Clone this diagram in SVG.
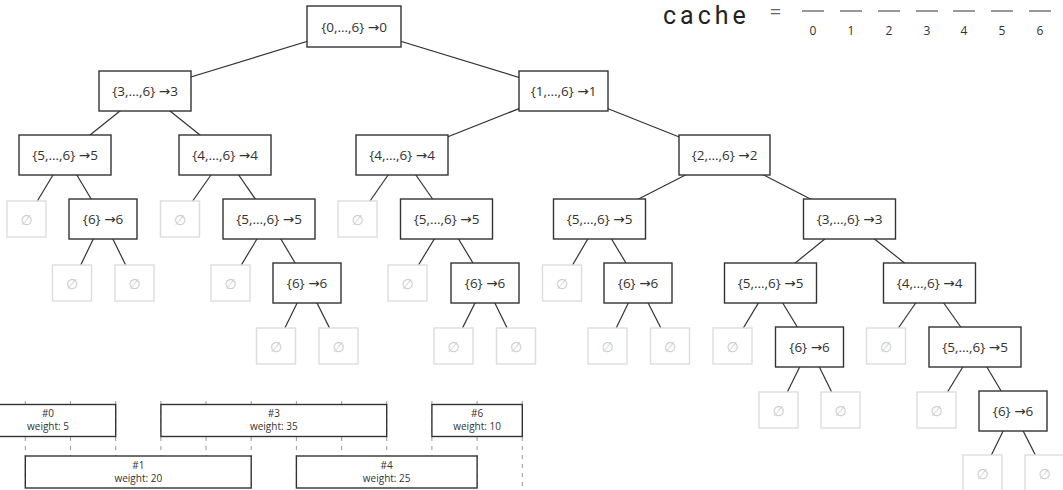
<svg xmlns="http://www.w3.org/2000/svg" width="1063" height="490" viewBox="0 0 1063 490">
<style>
text{font-family:"Open Sans","Noto Sans","DejaVu Sans",sans-serif;fill:#333}
.nb rect,.nb use{fill:#fff;stroke:#333;stroke-width:1.4}
.nb text{font-size:13.5px;text-anchor:middle;dominant-baseline:central}
.nl rect,.nl use{fill:#fff;stroke:#ddd;stroke-width:1.4}
.nl text{font-size:14px;text-anchor:middle;dominant-baseline:central;fill:#c8c8c8}
#connectors line{stroke:#333;stroke-width:1.2}
.tick{stroke:#999;stroke-width:1;stroke-dasharray:4 5}
.iv rect{fill:#fff;stroke:#333;stroke-width:1.4}
.iv text{font-size:10px;text-anchor:middle;dominant-baseline:central}
.cl{stroke:#333;stroke-width:1}
.cd{font-size:12px;text-anchor:middle}
</style>
<defs>
<rect id="b92" x="-46" y="-20" width="92" height="40"/>
<rect id="b68" x="-34" y="-20" width="68" height="40"/>
<rect id="bz" x="-19.5" y="-18" width="39" height="36"/>
</defs>

<!-- cache header -->
<g id="cache">
<text x="663" y="24" font-size="25" style="font-family:Roboto,'Open Sans',sans-serif;letter-spacing:4px;fill:#222">cache</text>
<text x="775.5" y="19" font-size="20" text-anchor="middle" style="fill:#666">=</text>
<line class="cl" x1="802" y1="11" x2="824" y2="11"/>
<line class="cl" x1="840" y1="11" x2="862" y2="11"/>
<line class="cl" x1="878" y1="11" x2="900" y2="11"/>
<line class="cl" x1="916" y1="11" x2="938" y2="11"/>
<line class="cl" x1="953" y1="11" x2="975" y2="11"/>
<line class="cl" x1="991" y1="11" x2="1013" y2="11"/>
<line class="cl" x1="1029" y1="11" x2="1051" y2="11"/>
<text class="cd" x="813" y="35">0</text>
<text class="cd" x="851" y="35">1</text>
<text class="cd" x="889" y="35">2</text>
<text class="cd" x="927" y="35">3</text>
<text class="cd" x="964" y="35">4</text>
<text class="cd" x="1002" y="35">5</text>
<text class="cd" x="1040" y="35">6</text>
</g>

<g id="connectors">
<line x1="354" y1="27" x2="145" y2="91"/>
<line x1="354" y1="27" x2="563.5" y2="91"/>
<line x1="145" y1="91" x2="65" y2="155"/>
<line x1="145" y1="91" x2="225" y2="155"/>
<line x1="563.5" y1="91" x2="402" y2="155"/>
<line x1="563.5" y1="91" x2="724.5" y2="155"/>
<line x1="65" y1="155" x2="26.5" y2="219"/>
<line x1="65" y1="155" x2="103" y2="219"/>
<line x1="225" y1="155" x2="180" y2="219"/>
<line x1="225" y1="155" x2="269" y2="219"/>
<line x1="402" y1="155" x2="357.5" y2="219"/>
<line x1="402" y1="155" x2="446.5" y2="219"/>
<line x1="724.5" y1="155" x2="599.5" y2="219"/>
<line x1="724.5" y1="155" x2="849.5" y2="219"/>
<line x1="103" y1="219" x2="72" y2="283"/>
<line x1="103" y1="219" x2="134.5" y2="283"/>
<line x1="269" y1="219" x2="230.5" y2="283"/>
<line x1="269" y1="219" x2="307" y2="283"/>
<line x1="446.5" y1="219" x2="407.5" y2="283"/>
<line x1="446.5" y1="219" x2="485" y2="283"/>
<line x1="599.5" y1="219" x2="562" y2="283"/>
<line x1="599.5" y1="219" x2="638" y2="283"/>
<line x1="849.5" y1="219" x2="770.5" y2="283"/>
<line x1="849.5" y1="219" x2="929.5" y2="283"/>
<line x1="307" y1="283" x2="276" y2="346"/>
<line x1="307" y1="283" x2="338.5" y2="346"/>
<line x1="485" y1="283" x2="453.5" y2="346"/>
<line x1="485" y1="283" x2="516" y2="346"/>
<line x1="638" y1="283" x2="607.5" y2="346"/>
<line x1="638" y1="283" x2="670" y2="346"/>
<line x1="770.5" y1="283" x2="732.5" y2="346"/>
<line x1="770.5" y1="283" x2="809.5" y2="347"/>
<line x1="929.5" y1="283" x2="886" y2="346"/>
<line x1="929.5" y1="283" x2="975" y2="347"/>
<line x1="809.5" y1="347" x2="778.5" y2="410"/>
<line x1="809.5" y1="347" x2="840.5" y2="410"/>
<line x1="975" y1="347" x2="936.5" y2="410"/>
<line x1="975" y1="347" x2="1013" y2="411"/>
<line x1="1013" y1="411" x2="982.5" y2="473"/>
<line x1="1013" y1="411" x2="1044.5" y2="473"/>
</g>

<!-- tree nodes -->
<g id="n0" class="nb" transform="translate(354,27)"><rect x="-47" y="-21" width="94" height="41"/><text>{0,...,6} →0</text></g>
<g id="n1" class="nb" transform="translate(145,91)"><use href="#b92"/><text>{3,...,6} →3</text></g>
<g id="n2" class="nb" transform="translate(563.5,91)"><rect x="-44.5" y="-20" width="89" height="40"/><text>{1,...,6} →1</text></g>
<g id="n3" class="nb" transform="translate(65,155)"><use href="#b92"/><text>{5,...,6} →5</text></g>
<g id="n4" class="nb" transform="translate(225,155)"><use href="#b92"/><text>{4,...,6} →4</text></g>
<g id="n5" class="nb" transform="translate(402,155)"><use href="#b92"/><text>{4,...,6} →4</text></g>
<g id="n6" class="nb" transform="translate(724.5,155)"><rect x="-45.5" y="-20" width="91" height="40"/><text>{2,...,6} →2</text></g>

<g id="z1" class="nl" transform="translate(26.5,219)"><use href="#bz"/><text>∅</text></g>
<g id="n7" class="nb" transform="translate(103,219)"><use href="#b68"/><text>{6} →6</text></g>
<g id="z2" class="nl" transform="translate(180,219)"><use href="#bz"/><text>∅</text></g>
<g id="n8" class="nb" transform="translate(269,219)"><use href="#b92"/><text>{5,...,6} →5</text></g>
<g id="z3" class="nl" transform="translate(357.5,219)"><use href="#bz"/><text>∅</text></g>
<g id="n9" class="nb" transform="translate(446.5,219)"><use href="#b92"/><text>{5,...,6} →5</text></g>
<g id="n10" class="nb" transform="translate(599.5,219)"><use href="#b92"/><text>{5,...,6} →5</text></g>
<g id="n11" class="nb" transform="translate(849.5,219)"><use href="#b92"/><text>{3,...,6} →3</text></g>

<g id="z4" class="nl" transform="translate(72,283)"><use href="#bz"/><text>∅</text></g>
<g id="z5" class="nl" transform="translate(134.5,283)"><use href="#bz"/><text>∅</text></g>
<g id="z6" class="nl" transform="translate(230.5,283)"><use href="#bz"/><text>∅</text></g>
<g id="n12" class="nb" transform="translate(307,283)"><use href="#b68"/><text>{6} →6</text></g>
<g id="z7" class="nl" transform="translate(407.5,283)"><use href="#bz"/><text>∅</text></g>
<g id="n13" class="nb" transform="translate(485,283)"><use href="#b68"/><text>{6} →6</text></g>
<g id="z8" class="nl" transform="translate(562,283)"><use href="#bz"/><text>∅</text></g>
<g id="n14" class="nb" transform="translate(638,283)"><use href="#b68"/><text>{6} →6</text></g>
<g id="n15" class="nb" transform="translate(770.5,283)"><use href="#b92"/><text>{5,...,6} →5</text></g>
<g id="n16" class="nb" transform="translate(929.5,283)"><use href="#b92"/><text>{4,...,6} →4</text></g>

<g id="z9" class="nl" transform="translate(276,346)"><use href="#bz"/><text>∅</text></g>
<g id="z10" class="nl" transform="translate(338.5,346)"><use href="#bz"/><text>∅</text></g>
<g id="z11" class="nl" transform="translate(453.5,346)"><use href="#bz"/><text>∅</text></g>
<g id="z12" class="nl" transform="translate(516,346)"><use href="#bz"/><text>∅</text></g>
<g id="z13" class="nl" transform="translate(607.5,346)"><use href="#bz"/><text>∅</text></g>
<g id="z14" class="nl" transform="translate(670,346)"><use href="#bz"/><text>∅</text></g>
<g id="z15" class="nl" transform="translate(732.5,346)"><use href="#bz"/><text>∅</text></g>
<g id="n17" class="nb" transform="translate(809.5,347)"><use href="#b68"/><text>{6} →6</text></g>
<g id="z16" class="nl" transform="translate(886,346)"><use href="#bz"/><text>∅</text></g>
<g id="n18" class="nb" transform="translate(975,347)"><use href="#b92"/><text>{5,...,6} →5</text></g>

<g id="z17" class="nl" transform="translate(778.5,410)"><use href="#bz"/><text>∅</text></g>
<g id="z18" class="nl" transform="translate(840.5,410)"><use href="#bz"/><text>∅</text></g>
<g id="z19" class="nl" transform="translate(936.5,410)"><use href="#bz"/><text>∅</text></g>
<g id="n19" class="nb" transform="translate(1013,411)"><use href="#b68"/><text>{6} →6</text></g>

<g id="z20" class="nl" transform="translate(982.5,473)"><use href="#bz"/><text>∅</text></g>
<g id="z21" class="nl" transform="translate(1044.5,473)"><use href="#bz"/><text>∅</text></g>

<!-- interval chart -->
<g id="ticks">
<line class="tick" x1="25.3" y1="401" x2="25.3" y2="490"/>
<line class="tick" x1="70.5" y1="401" x2="70.5" y2="490"/>
<line class="tick" x1="115.7" y1="401" x2="115.7" y2="490"/>
<line class="tick" x1="160.9" y1="401" x2="160.9" y2="490"/>
<line class="tick" x1="206" y1="401" x2="206" y2="490"/>
<line class="tick" x1="251.2" y1="401" x2="251.2" y2="490"/>
<line class="tick" x1="296.4" y1="401" x2="296.4" y2="490"/>
<line class="tick" x1="341.6" y1="401" x2="341.6" y2="490"/>
<line class="tick" x1="386.7" y1="401" x2="386.7" y2="490"/>
<line class="tick" x1="431.9" y1="401" x2="431.9" y2="490"/>
<line class="tick" x1="477.1" y1="401" x2="477.1" y2="490"/>
<line class="tick" x1="522.3" y1="401" x2="522.3" y2="490"/>
</g>
<g id="iv0" class="iv"><rect x="-20" y="404.5" width="135.7" height="32"/><text x="48" y="413">#0</text><text x="48" y="426">weight: 5</text></g>
<g id="iv3" class="iv"><rect x="160.9" y="404.5" width="225.8" height="32"/><text x="273.8" y="413">#3</text><text x="273.8" y="426">weight: 35</text></g>
<g id="iv6" class="iv"><rect x="431.9" y="404.5" width="90.4" height="32"/><text x="477.1" y="413">#6</text><text x="477.1" y="426">weight: 10</text></g>
<g id="iv1" class="iv"><rect x="25.3" y="456" width="225.9" height="32"/><text x="138.3" y="465">#1</text><text x="138.3" y="478">weight: 20</text></g>
<g id="iv4" class="iv"><rect x="296.4" y="456" width="180.7" height="32"/><text x="386.7" y="465">#4</text><text x="386.7" y="478">weight: 25</text></g>
</svg>
